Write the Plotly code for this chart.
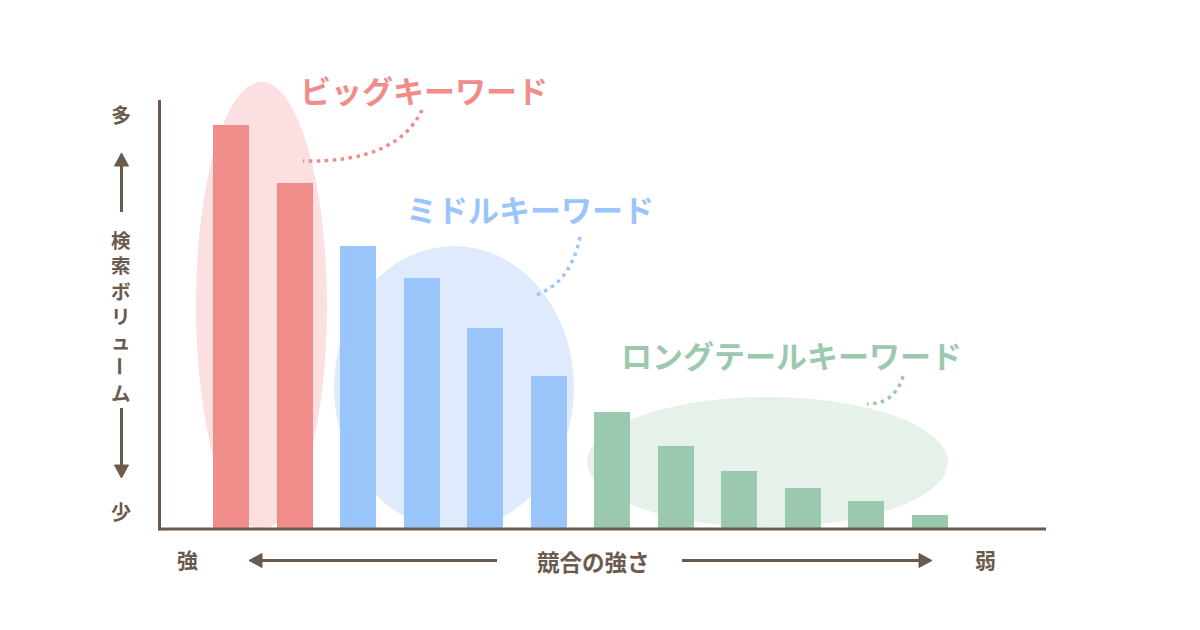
import plotly.graph_objects as go

# ---- data ----
categories = list(range(12))
big_values = [94.2, 80.6]
middle_values = [65.9, 58.4, 46.7, 35.5]
long_values = [27.1, 19.2, 13.3, 9.3, 6.3, 3.0]
group_labels = ["ビッグキーワード", "ミドルキーワード", "ロングテールキーワード"]
y_title_chars = ["検", "索", "ボ", "リ", "ュ", "ー", "ム"]
y_top_label, y_bottom_label = "多", "少"
x_title, x_left_label, x_right_label = "競合の強さ", "強", "弱"

RED, BLUE, GREEN = "#F08D8B", "#9AC5FB", "#9BC9AF"
RED_BG, BLUE_BG, GREEN_BG = "#FCDFE0", "#DFEBFC", "#E6F1EA"
BROWN = "#6B5A4E"
FONT = "Noto Sans CJK JP"

values = big_values + middle_values + long_values
colors = [RED] * len(big_values) + [BLUE] * len(middle_values) + [GREEN] * len(long_values)

# plot area in screen pixels (page body has an 8px margin)
OFF = 8
L, R, T, B = 159, 1045, 100, 528
W, H = R - L, B - T


def px(x):
    return (x - L) / W


def py(y):
    return (B - y) / H


fig = go.Figure()
fig.add_trace(go.Bar(x=categories, y=values, marker=dict(color=colors, line=dict(width=0)),
                     width=0.567, hoverinfo="skip"))

shapes = []
# background ellipses
for (x0, y0, x1, y1, c) in [(196, 82, 327, 529, RED_BG), (334, 246, 574, 529, BLUE_BG),
                            (587, 397, 948, 527, GREEN_BG)]:
    shapes.append(dict(type="circle", xref="paper", yref="paper", x0=px(x0), x1=px(x1),
                       y0=py(y1), y1=py(y0), fillcolor=c, line=dict(width=0), layer="below"))

# axis lines
shapes.append(dict(type="line", xref="paper", yref="paper", x0=px(159.5), x1=px(159.5),
                   y0=py(100), y1=py(530.5), line=dict(color=BROWN, width=3)))
shapes.append(dict(type="line", xref="paper", yref="paper", x0=px(158), x1=px(1046),
                   y0=py(529), y1=py(529), line=dict(color=BROWN, width=3)))


def path_q(p0, c, p1):
    return "M %f,%f Q %f,%f %f,%f" % (px(p0[0]), py(p0[1]), px(c[0]), py(c[1]), px(p1[0]), py(p1[1]))


# dotted leader curves
for p0, c, p1, col in [((422, 110), (397, 163), (303, 161), RED),
                       ((580, 237), (570, 285), (533, 296), BLUE),
                       ((903, 376), (895, 404), (867, 404), GREEN)]:
    shapes.append(dict(type="path", xref="paper", yref="paper", path=path_q(p0, c, p1),
                       line=dict(color=col, width=3.5, dash="3.5px,4.5px")))


def line(x0, y0, x1, y1):
    shapes.append(dict(type="line", xref="paper", yref="paper", x0=px(x0), x1=px(x1),
                       y0=py(y0), y1=py(y1), line=dict(color=BROWN, width=3)))


def tri(pts):
    p = "M " + " L ".join("%f,%f" % (px(a), py(b)) for a, b in pts) + " Z"
    shapes.append(dict(type="path", xref="paper", yref="paper", path=p,
                       fillcolor=BROWN, line=dict(color=BROWN, width=1)))


# vertical arrows
ax = 121.5
line(ax, 163, ax, 212)
tri([(ax, 153), (ax - 7, 166), (ax + 7, 166)])
line(ax, 408, ax, 467)
tri([(ax, 478), (ax - 7, 465), (ax + 7, 465)])
# horizontal arrows
ay = 560.5
line(259, ay, 497, ay)
tri([(249, ay), (262, ay - 7), (262, ay + 7)])
line(682, ay, 921, ay)
tri([(932, ay), (919, ay - 7), (919, ay + 7)])

annotations = []


def text(x, y, s, size, color=BROWN, angle=0):
    annotations.append(dict(xref="paper", yref="paper", x=px(x), y=py(y), text="<b>%s</b>" % s,
                            showarrow=False, xanchor="center", yanchor="middle", textangle=angle,
                            borderpad=0, font=dict(family=FONT, size=size, color=color)))


text(424, 89, group_labels[0], 31, RED)
text(530, 209, group_labels[1], 31, BLUE)
text(791, 354, group_labels[2], 31, GREEN)

text(ax - 1, 115, y_top_label, 20)
text(ax - 1, 511, y_bottom_label, 20)
# vertical axis title: stacked characters, the long-vowel mark turned upright
text(ax - 1, 290, "<br>".join(y_title_chars[:5]), 19.5)
text(ax - 1, 366, y_title_chars[5], 19.5, angle=90)
text(ax - 1, 392, y_title_chars[6], 19.5)

text(187, 559, x_left_label, 21)
text(593, 561, x_title, 22.5)
text(985, 559, x_right_label, 21)

fig.update_layout(
    width=1200, height=630,
    margin=dict(l=L - OFF, r=1200 - (R - OFF), t=T - OFF, b=630 - (B - OFF)),
    paper_bgcolor="white", plot_bgcolor="rgba(0,0,0,0)", showlegend=False,
    xaxis=dict(range=[-1.133, 12.81], visible=False, fixedrange=True),
    yaxis=dict(range=[0, 100], visible=False, fixedrange=True),
    shapes=shapes, annotations=annotations, bargap=0,
)

fig.write_html("out.html", config={"displayModeBar": False})
